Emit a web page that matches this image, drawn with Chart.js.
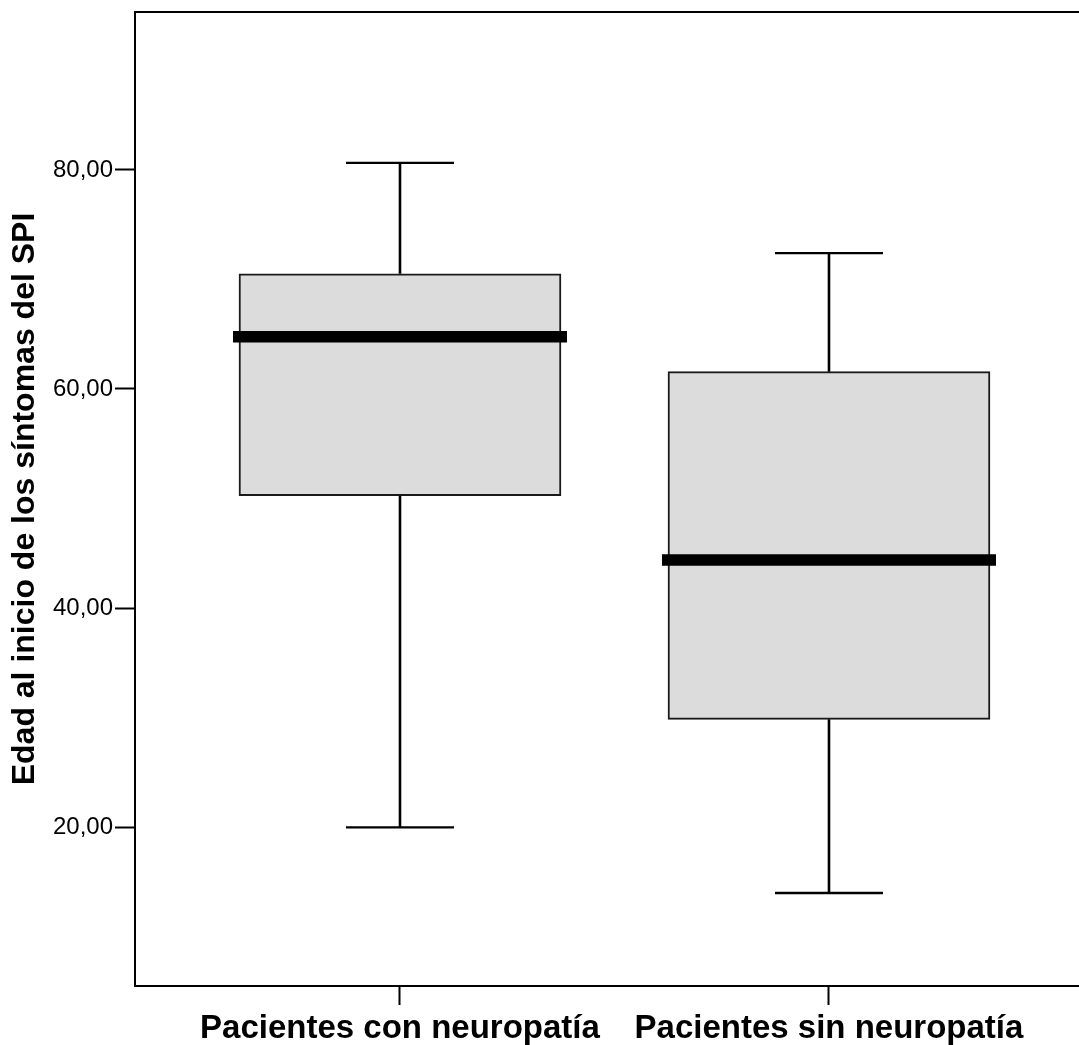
<!DOCTYPE html>
<html>
<head>
<meta charset="utf-8">
<script src="https://cdn.jsdelivr.net/npm/chart.js@4"></script>
<style>
  html, body { margin: 0; padding: 0; background: #fff; overflow: hidden; }
  #wrap { width: 1079px; height: 1045px; position: relative; }
</style>
</head>
<body>
<div id="wrap"><canvas id="c"></canvas></div>
<script>
const categories = ['Pacientes con neuropatía', 'Pacientes sin neuropatía'];
const minimum = [19.97, 13.98];
const q1 = [50.26, 29.84];
const median = [64.78, 44.39];
const q3 = [70.51, 61.58];
const maximum = [80.64, 72.40];
const yTicks = [20, 40, 60, 80];
const yMin = 5.49, yMax = 94.42;
const yTitle = 'Edad al inicio de los síntomas del SPI';

const FONT = "'Liberation Sans', Arial, Helvetica, sans-serif";

const boxData = categories.map((c, i) => ({ x: i + 1, y: [q1[i], q3[i]] }));

const boxPlugin = {
  id: 'boxParts',
  afterDatasetsDraw(chart) {
    const ctx = chart.ctx;
    const xs = chart.scales.x, ys = chart.scales.y;
    const meta = chart.getDatasetMeta(0);
    ctx.save();
    categories.forEach((c, i) => {
      const bar = meta.data[i];
      const cx = xs.getPixelForValue(i + 1);
      const half = bar.width / 2;
      const capHalf = 54;
      ctx.strokeStyle = '#000';
      ctx.lineCap = 'butt';
      ctx.lineWidth = 2.6;
      ctx.beginPath();
      ctx.moveTo(cx, ys.getPixelForValue(q3[i]));
      ctx.lineTo(cx, ys.getPixelForValue(maximum[i]));
      ctx.moveTo(cx, ys.getPixelForValue(q1[i]));
      ctx.lineTo(cx, ys.getPixelForValue(minimum[i]));
      ctx.stroke();
      ctx.lineWidth = 2.4;
      ctx.beginPath();
      ctx.moveTo(cx - capHalf, ys.getPixelForValue(maximum[i]));
      ctx.lineTo(cx + capHalf, ys.getPixelForValue(maximum[i]));
      ctx.moveTo(cx - capHalf, ys.getPixelForValue(minimum[i]));
      ctx.lineTo(cx + capHalf, ys.getPixelForValue(minimum[i]));
      ctx.stroke();
      ctx.lineWidth = 11.5;
      ctx.beginPath();
      ctx.moveTo(cx - half - 6, ys.getPixelForValue(median[i]));
      ctx.lineTo(cx + half + 6, ys.getPixelForValue(median[i]));
      ctx.stroke();
    });
    const a = chart.chartArea;
    ctx.lineWidth = 2;
    ctx.beginPath();
    ctx.moveTo(a.left - 1, a.top);
    ctx.lineTo(a.right, a.top);
    ctx.stroke();
    ctx.restore();
  }
};

new Chart(document.getElementById('c'), {
  type: 'bar',
  data: {
    datasets: [{
      data: boxData,
      backgroundColor: '#dcdcdc',
      borderColor: '#1a1a1a',
      borderWidth: 2,
      borderSkipped: false,
      barThickness: 322
    }]
  },
  options: {
    responsive: true,
    maintainAspectRatio: false,
    animation: false,
    layout: { padding: { top: 12, left: 0, right: 0, bottom: 0 } },
    plugins: { legend: { display: false }, tooltip: { enabled: false } },
    scales: {
      x: {
        type: 'linear',
        min: 0.3823,
        max: 2.5828,
        offset: false,
        afterBuildTicks: s => { s.ticks = categories.map((c, i) => ({ value: i + 1 })); },
        afterFit: s => { s.height = 59; s.paddingLeft = 0; s.paddingRight = 0; },
        ticks: {
          autoSkip: false,
          maxRotation: 0,
          padding: 4,
          color: '#000',
          font: { family: FONT, size: 33, weight: 'bold' },
          callback: (v) => categories[Math.round(v) - 1] || ''
        },
        grid: { offset: false, drawOnChartArea: false, drawTicks: true, tickLength: 19, tickWidth: 2, tickColor: '#000' },
        border: { display: true, color: '#000', width: 2 }
      },
      y: {
        type: 'linear',
        min: yMin,
        max: yMax,
        afterBuildTicks: s => { s.ticks = yTicks.map(v => ({ value: v })); },
        afterFit: s => { s.width = 135; s.paddingTop = 0; s.paddingBottom = 0; },
        ticks: {
          padding: 2,
          color: '#000',
          font: { family: FONT, size: 24 },
          callback: v => v.toFixed(2).replace('.', ',')
        },
        grid: { offset: false, drawOnChartArea: false, drawTicks: true, tickLength: 20, tickWidth: 2, tickColor: '#000' },
        border: { display: true, color: '#000', width: 2 },
        title: {
          display: true,
          text: yTitle,
          color: '#000',
          padding: { top: 6, bottom: 0 },
          font: { family: FONT, size: 32, weight: 'bold' }
        }
      }
    }
  },
  plugins: [boxPlugin]
});
</script>
</body>
</html>
